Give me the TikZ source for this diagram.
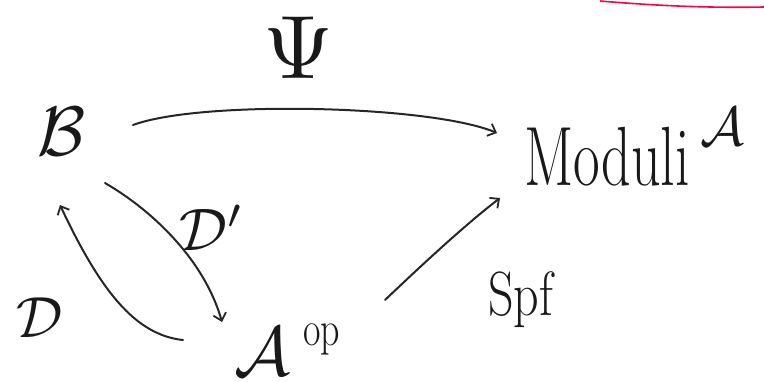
\documentclass[tikz,border=0pt]{standalone}
\usetikzlibrary{arrows.meta}
\begin{document}
\begin{tikzpicture}[x=1pt,y=-1pt,
  ink/.style={draw=black!85, line width=2pt, line cap=round},
  arr/.style={ink, -{Straight Barb[length=7pt,width=13pt,line width=1.8pt]}},
  lbl/.style={inner sep=0pt, text=black!90}]
\useasboundingbox (0,0) rectangle (764,381);
% faint red stroke at top right
\draw[red!75!magenta, line width=1.6pt] (600,1) .. controls (660,6) and (710,8) .. (764,7);
% nodes
\node[lbl] (B) at (62,132) {\scalebox{7}{$\mathcal{B}$}};
\node[lbl] (psi) at (298,48) {\scalebox{9}{$\Psi$}};
\node[lbl, anchor=base west] (mod) at (524,185) {\scalebox{1}[1.45]{\fontsize{58}{58}\selectfont Moduli}};
\node[lbl, anchor=south west] (modA) at (700,146) {\scalebox{5.5}{$\mathcal{A}$}};
\node[lbl] (aA) at (262,352) {\scalebox{7}{$\mathcal{A}$}};
\node[lbl, anchor=base west] (op) at (303,345) {\scalebox{1}[1.3]{\fontsize{38}{38}\selectfont op}};
\node[lbl, anchor=base west] (spf) at (488,315) {\scalebox{1}[1.25]{\fontsize{50}{50}\selectfont Spf}};
\node[lbl] (D) at (40,318) {\scalebox{5.8}{$\mathcal{D}$}};
\node[lbl] (Dp) at (212,228) {\scalebox{6}{$\mathcal{D}'$}};
% connector ends
\coordinate (bR) at (133,125);
\coordinate (mL) at (497,133);
\coordinate (mLb) at (500,198);
\coordinate (bB) at (105,183);
\coordinate (bBl) at (60,205);
\coordinate (aT) at (222,322);
\coordinate (aL) at (183,340);
\coordinate (aR) at (385,300);
% connectors
\draw[arr] (bR) .. controls (200,100) and (430,105) .. (mL);
\draw[arr] (bB) .. controls (155,212) and (205,262) .. (aT);
\draw[arr] (aL) .. controls (135,335) and (100,290) .. (bBl);
\draw[arr] (aR) .. controls (425,262) and (465,225) .. (mLb);
\end{tikzpicture}
\end{document}
